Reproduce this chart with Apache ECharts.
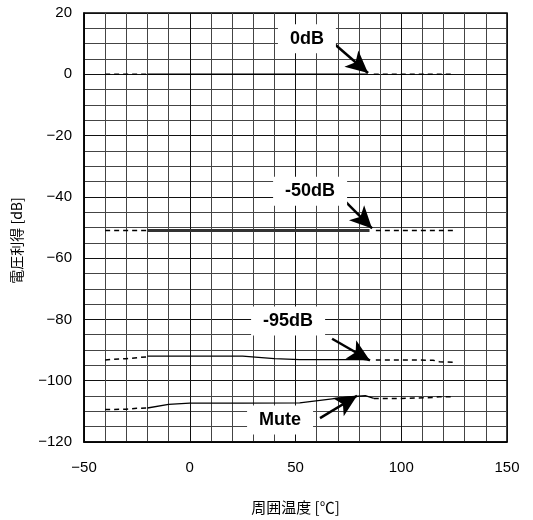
<!DOCTYPE html>
<html>
<head>
<meta charset="utf-8">
<script src="https://cdn.jsdelivr.net/npm/echarts@6/dist/echarts.min.js"></script>
<style>html,body{margin:0;padding:0;background:#fff}#c{width:533px;height:520px}</style>
</head>
<body>
<div id="c"></div>
<script>
// Temperature (°C) / gain (dB) points
const g0_dashL = [[-40, 0], [-20, 0]];
const g0_solid = [[-20, 0], [84, 0]];
const g0_dashR = [[87, 0], [125, 0]];

const g50_dashL = [[-40, -51], [-20, -51]];
const g50_solid = [[-20, -51], [85, -51]];
const g50_dashR = [[88, -51], [125, -51]];

const g95_dashL = [[-40, -93.2], [-30, -92.8], [-20, -92.2]];
const g95_solid = [[-20, -92], [0, -92], [25, -92], [40, -92.8], [52, -93.1], [82, -93.1], [85, -93.3]];
const g95_dashR = [[88, -93.2], [115, -93.3], [118, -93.8], [125, -94]];

const mute_dashL = [[-40, -109.4], [-30, -109.3], [-25, -109], [-20, -108.9]];
const mute_solid = [[-20, -108.9], [-10, -107.7], [0, -107.3], [25, -107.3], [52, -107.2], [75, -105.3], [83, -104.9], [87, -105.8]];
const mute_dashR = [[87, -105.8], [100, -105.8], [115, -105.5], [118, -105.2], [125, -105.2]];

const xTicks = [-50, 0, 50, 100, 150];
const yTicks = [-120, -100, -80, -60, -40, -20, 0, 20];

// annotation labels and arrows (in data units)
const labelNames = ['0dB', '-50dB', '-95dB', 'Mute'];
const labelAt = [[55.4, 11.6], [56.9, -38.2], [46.5, -80.5], [42.7, -112.8]];
const arrowFrom = [[68.7, 9.7], [73.4, -41.4], [67.3, -86.3], [61.6, -112.2]];
const arrowTo = [[84.3, 0.4], [86.2, -50.3], [85.2, -93.4], [79.1, -104.9]];

const minus = v => String(v).replace('-', '\u2212');

function seg(data, dashed, width, color) {
  return {
    type: 'line', data: data, symbol: 'none', silent: true, z: 3,
    lineStyle: { color: color || '#000', width: width, type: dashed ? [5, 4] : 'solid' }
  };
}

const series = [
  seg(g0_dashL, true, 1.5), seg(g0_solid, false, 1.5), seg(g0_dashR, true, 1.5),
  seg(g50_dashL, true, 1.5), seg(g50_solid, false, 3, '#333'), seg(g50_dashR, true, 1.5),
  seg(g95_dashL, true, 1.5), seg(g95_solid, false, 1.3), seg(g95_dashR, true, 1.5),
  seg(mute_dashL, true, 1.5), seg(mute_solid, false, 1.3), seg(mute_dashR, true, 1.5),
  {
    type: 'scatter', symbolSize: 0, z: 5, silent: true,
    itemStyle: { opacity: 1 },
    data: labelNames.map((n, i) => ({ name: n, value: labelAt[i] })),
    label: {
      show: true, position: 'inside', formatter: p => p.name,
      fontFamily: 'Liberation Sans, Arial, sans-serif', fontWeight: 'bold', fontSize: 18,
      color: '#000', opacity: 1,
      backgroundColor: '#fff', padding: [6, 12, 5, 12]
    },
    emphasis: { disabled: true },
    markLine: {
      silent: true, symbol: ['none', 'arrow'], symbolSize: [16, 22],
      lineStyle: { color: '#000', width: 2.5, type: 'solid', opacity: 1 },
      label: { show: false },
      emphasis: { disabled: true },
      data: arrowFrom.map((f, i) => [{ coord: f }, { coord: arrowTo[i] }])
    }
  }
];

const chart = echarts.init(document.getElementById('c'), null, { renderer: 'canvas' });
chart.setOption({
  backgroundColor: '#fff',
  animation: false,
  grid: { left: 84, right: 26, top: 13, bottom: 74, show: true, borderColor: '#000', borderWidth: 1.5 },
  xAxis: {
    type: 'value', min: xTicks[0], max: xTicks[xTicks.length - 1], interval: 50,
    name: '周囲温度 [℃]', nameLocation: 'middle', nameGap: 58,
    nameTextStyle: { fontFamily: 'Noto Sans CJK JP', fontSize: 15, color: '#000' },
    axisLine: { show: true, onZero: false, lineStyle: { color: '#000', width: 1.5 } },
    axisTick: { show: false },
    axisLabel: { formatter: minus, fontFamily: 'Liberation Sans, Arial', fontSize: 15, color: '#000', margin: 18 },
    splitLine: { show: true, lineStyle: { color: '#111', width: 1 } },
    minorTick: { show: false, splitNumber: 5 },
    minorSplitLine: { show: true, lineStyle: { color: '#444', width: 1 } }
  },
  yAxis: {
    type: 'value', min: yTicks[0], max: yTicks[yTicks.length - 1], interval: 20,
    name: '電圧利得 [dB]', nameLocation: 'middle', nameGap: 60, nameRotate: 90,
    nameTextStyle: { fontFamily: 'Noto Sans CJK JP', fontSize: 14, color: '#000', padding: [0, 0, 0, -26] },
    axisLine: { show: true, onZero: false, lineStyle: { color: '#000', width: 1.5 } },
    axisTick: { show: false },
    axisLabel: { formatter: minus, fontFamily: 'Liberation Sans, Arial', fontSize: 15, color: '#000', margin: 12 },
    splitLine: { show: true, lineStyle: { color: '#111', width: 1 } },
    minorTick: { show: false, splitNumber: 4 },
    minorSplitLine: { show: true, lineStyle: { color: '#444', width: 1 } }
  },
  series: series
});
</script>
</body>
</html>
